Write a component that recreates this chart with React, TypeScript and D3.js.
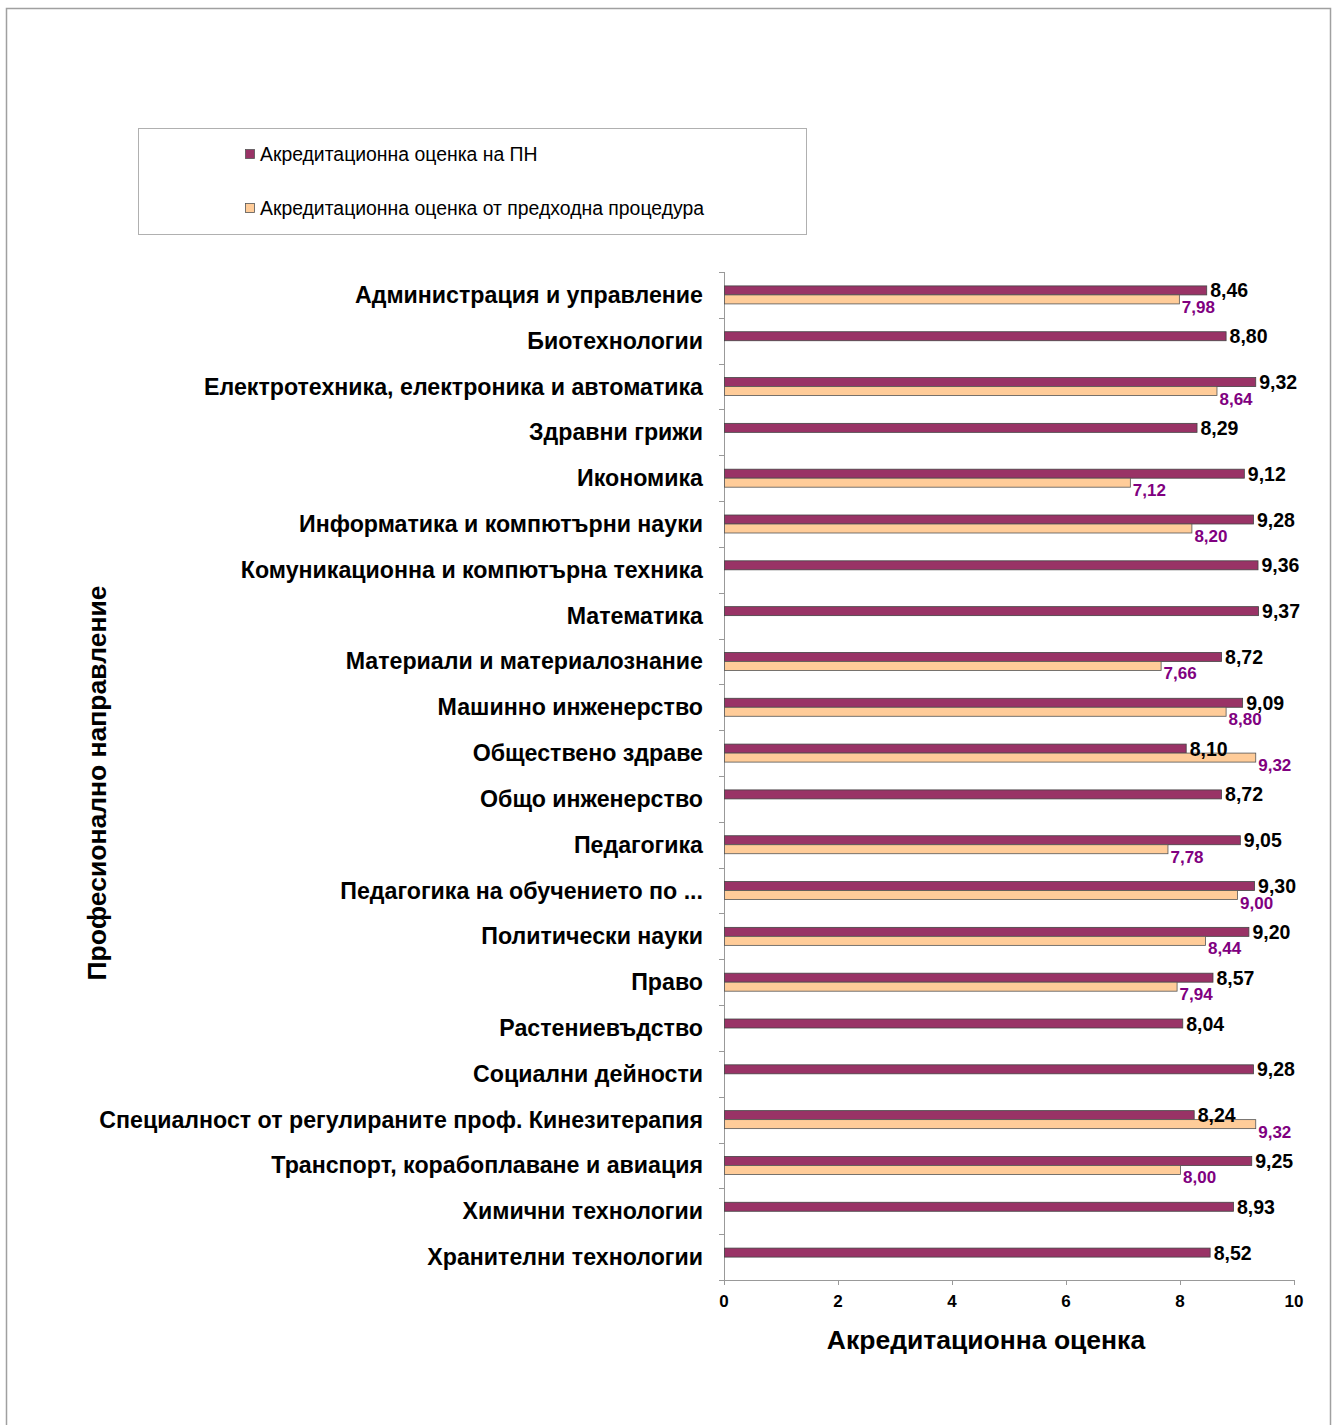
import React from "react";
import * as d3 from "d3";

const categories = [
  "Администрация и управление",
  "Биотехнологии",
  "Електротехника, електроника и автоматика",
  "Здравни грижи",
  "Икономика",
  "Информатика и компютърни науки",
  "Комуникационна и компютърна техника",
  "Математика",
  "Материали и материалознание",
  "Машинно инженерство",
  "Обществено здраве",
  "Общо инженерство",
  "Педагогика",
  "Педагогика на обучението по ...",
  "Политически науки",
  "Право",
  "Растениевъдство",
  "Социални дейности",
  "Специалност от регулираните проф. Кинезитерапия",
  "Транспорт, корабоплаване и авиация",
  "Химични технологии",
  "Хранителни технологии",
];

const currentScores: number[] = [
  8.46, 8.8, 9.32, 8.29, 9.12, 9.28, 9.36, 9.37, 8.72, 9.09, 8.1, 8.72, 9.05,
  9.3, 9.2, 8.57, 8.04, 9.28, 8.24, 9.25, 8.93, 8.52,
];

const previousScores: (number | null)[] = [
  7.98, null, 8.64, null, 7.12, 8.2, null, null, 7.66, 8.8, 9.32, null, 7.78,
  9.0, 8.44, 7.94, null, null, 9.32, 8.0, null, null,
];

const xTicks = [0, 2, 4, 6, 8, 10];

const seriesNames = [
  "Акредитационна оценка на ПН",
  "Акредитационна оценка от предходна процедура",
];

const xTitle = "Акредитационна оценка";
const yTitle = "Професионално направление";

const W = 1335;
const H = 1425;
const FONT = "'Liberation Sans', Arial, sans-serif";
const C1 = "#993366";
const C2 = "#FFCC99";
const LABEL2 = "#800080";

const fmt = (v: number) => v.toFixed(2).replace(".", ",");

export default function App() {
  const left = 724;
  const right = 1294;
  const top = 272;
  const bottom = 1280;
  const x = d3.scaleLinear().domain([0, 10]).range([left, right]);
  const y = d3.scaleBand<string>().domain(categories).range([top, bottom]);
  const barH = 9;
  const bw = y.bandwidth();
  const cyOf = (c: string) => (y(c) as number) + bw / 2;

  return (
    <svg
      width={W}
      height={H}
      style={{ position: "absolute", left: 0, top: 0, background: "#fff" }}
      fontFamily={FONT}
    >
      <rect x={0} y={0} width={W} height={H} fill="#fff" />
      <rect x={6.5} y={8.5} width={1324} height={1430} fill="none" stroke="#a0a0a0" strokeWidth={1.5} />

      {/* legend */}
      <rect x={138.5} y={128.5} width={668} height={106} fill="#fff" stroke="#b0b0b0" strokeWidth={1} />
      {seriesNames.map((s, i) => (
        <g key={s} transform={`translate(0, ${i * 54})`}>
          <rect x={245.5} y={149.5} width={9} height={9} fill={i === 0 ? C1 : C2} stroke="#555" strokeWidth={0.8} />
          <text x={260} y={161} fontSize={19.4} fill="#000">
            {s}
          </text>
        </g>
      ))}

      {/* y axis */}
      <line x1={left + 0.5} x2={left + 0.5} y1={top} y2={bottom} stroke="#999" />
      {d3.range(categories.length + 1).map((i) => {
        const yy = Math.round(top + i * bw) + 0.5;
        return <line key={i} x1={left - 5} x2={left} y1={yy} y2={yy} stroke="#999" />;
      })}
      {/* x axis */}
      <line x1={left} x2={right} y1={bottom + 0.5} y2={bottom + 0.5} stroke="#999" />
      {xTicks.map((t) => (
        <g key={t}>
          <line x1={x(t) + 0.5} x2={x(t) + 0.5} y1={bottom} y2={bottom + 5} stroke="#999" />
          <text x={x(t)} y={1307} textAnchor="middle" fontSize={17} fontWeight="bold" fill="#000">
            {t}
          </text>
        </g>
      ))}
      <text x={986} y={1349} textAnchor="middle" fontSize={26.5} fontWeight="bold" fill="#000">
        {xTitle}
      </text>
      <text
        transform={`translate(106, 783) rotate(-90)`}
        textAnchor="middle"
        fontSize={26.5}
        fontWeight="bold"
        fill="#000"
      >
        {yTitle}
      </text>

      {/* categories and bars */}
      {categories.map((c, i) => {
        const cy = cyOf(c);
        const v1 = currentScores[i];
        const v2 = previousScores[i];
        return (
          <g key={c}>
            <text x={703} y={cy + 8} textAnchor="end" fontSize={23.2} fontWeight="bold" fill="#000">
              {c}
            </text>
            <rect
              x={x(0) + 0.5}
              y={cy - barH}
              width={x(v1) - x(0)}
              height={barH}
              fill={C1}
              stroke="#444"
              strokeWidth={0.8}
            />
            {v2 != null && (
              <rect
                x={x(0) + 0.5}
                y={cy}
                width={x(v2) - x(0)}
                height={barH}
                fill={C2}
                stroke="#555"
                strokeWidth={0.8}
              />
            )}
          </g>
        );
      })}

      {/* value labels drawn on top */}
      {categories.map((c, i) => {
        const cy = cyOf(c);
        const v1 = currentScores[i];
        const v2 = previousScores[i];
        return (
          <g key={"l" + c}>
            <text x={x(v1) + 4} y={cy - barH / 2 + 7} fontSize={19.5} fontWeight="bold" fill="#000">
              {fmt(v1)}
            </text>
            {v2 != null && (
              <text x={x(v2) + 3} y={cy + barH / 2 + 13.5} fontSize={17} fontWeight="bold" fill={LABEL2}>
                {fmt(v2)}
              </text>
            )}
          </g>
        );
      })}
    </svg>
  );
}
